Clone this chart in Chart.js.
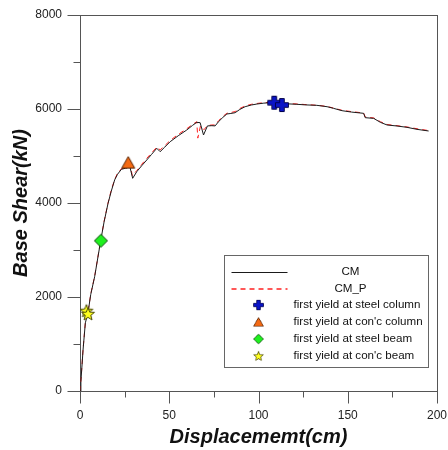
<!DOCTYPE html>
<html>
<head>
<meta charset="utf-8">
<script src="https://cdn.jsdelivr.net/npm/chart.js@4.4.1/dist/chart.umd.min.js"></script>
<style>
  body { margin: 0; background: #fff; }
  #wrap { width: 448px; height: 450px; }
</style>
</head>
<body>
<div id="wrap"><canvas id="grafico" width="448" height="450"></canvas></div>
<script>
// curva CM (deslocamento x cortante na base)
const dispCM = [0, 0.5, 1.7, 3, 4.5, 6, 8.2, 11.6, 13.5, 15.7, 17.5, 19.4, 21, 23.2, 25.5, 26.5, 27.7, 29.5, 31.8, 34.5,
    37.4, 40, 43, 44.9, 47.5, 50.5, 55, 59.8, 63, 65.4, 67.3, 69.2, 71.4, 73.9, 75.7, 77.6, 80, 82.3, 84.5, 86.9,
    89.5, 92.5, 96, 99.1, 103, 106.6, 110, 115, 121.5, 126, 132.7, 138.4, 142, 146.8, 152, 158.9, 159.8, 164.5, 168.3, 172,
    177.6, 183.2, 188.8, 195.3];
const shearCM = [0, 200, 870, 1450, 1670, 2050, 2430, 3200, 3600, 3990, 4250, 4490, 4610, 4717, 4740, 4745, 4810, 4525, 4666, 4790,
    4915, 5030, 5164, 5092, 5190, 5304, 5430, 5553, 5650, 5716, 5709, 5447, 5640, 5645, 5640, 5730, 5820, 5894, 5905, 5921,
    5990, 6049, 6085, 6106, 6125, 6134, 6125, 6112, 6100, 6088, 6078, 6049, 6014, 5964, 5935, 5908, 5815, 5801, 5716, 5660,
    5638, 5610, 5567, 5532];

// curva CM_P
const dispCMP = [0, 0.5, 1.7, 3, 4.5, 6, 8.2, 11.6, 13.5, 15.7, 17.5, 19.4, 21, 23.2, 25.5, 27, 28.2, 29.3, 31.8, 34.5,
    37.4, 40, 43, 44.9, 47.5, 50.5, 55, 59.8, 63, 65.4, 66, 67.5, 69.5, 71.4, 73.9, 75.7, 77.6, 80, 82.3, 84.5,
    86.9, 89.5, 92.5, 96, 99.1, 103, 106.6, 110, 115, 121.5, 126, 132.7, 138.4, 142, 146.8, 152, 158.9, 159.8, 164.5, 168.3,
    172, 177.6, 183.2, 188.8, 195.3];
const shearCMP = [0, 210, 880, 1460, 1680, 2060, 2440, 3210, 3610, 4000, 4270, 4500, 4630, 4730, 4760, 4780, 4800, 4580, 4690, 4820,
    4950, 5060, 5190, 5130, 5220, 5330, 5460, 5580, 5670, 5730, 5380, 5640, 5560, 5650, 5660, 5660, 5750, 5840, 5910, 5925,
    5945, 6010, 6065, 6100, 6118, 6135, 6140, 6130, 6118, 6108, 6095, 6080, 6055, 6020, 5972, 5945, 5915, 5830, 5810, 5730,
    5670, 5645, 5618, 5580, 5540];

// pontos de primeiro escoamento
const steelColX = [108.8, 113.1];
const steelColY = [6134, 6085];
const concColX = [27];
const concColY = [4860];
const steelBeamX = [11.7];
const steelBeamY = [3198];
const concBeamX = [3.6, 4.5];
const concBeamY = [1705, 1640];

const seriesLabels = ["CM", "CM_P", "first yield at steel column", "first yield at con'c column",
    "first yield at steel beam", "first yield at con'c beam"];

// eixos
const xMajor = [0, 50, 100, 150, 200];
const xMinor = [25, 75, 125, 175];
const yMajor = [0, 2000, 4000, 6000, 8000];
const yMinor = [1000, 3000, 5000, 7000];

const fonte = "'Liberation Sans', Arial, sans-serif";
const corCM = '#1a1a1a';
const corCMP = '#ff2020';
const tracoCMP = [5, 4];

function toPoints(xs, ys) {
    return xs.map((x, i) => ({ x: x, y: ys[i] }));
}

// desenha os marcadores num canvas pequeno (pointStyle)
function makeMarker(kind) {
    const c = document.createElement('canvas');
    c.width = 16;
    c.height = 16;
    const g = c.getContext('2d');
    g.beginPath();
    if (kind === 'cross') {
        const a = 2.3, b = 6.5, cx = 8, cy = 8;
        g.moveTo(cx - a, cy - b); g.lineTo(cx + a, cy - b); g.lineTo(cx + a, cy - a); g.lineTo(cx + b, cy - a);
        g.lineTo(cx + b, cy + a); g.lineTo(cx + a, cy + a); g.lineTo(cx + a, cy + b); g.lineTo(cx - a, cy + b);
        g.lineTo(cx - a, cy + a); g.lineTo(cx - b, cy + a); g.lineTo(cx - b, cy - a); g.lineTo(cx - a, cy - a);
        g.closePath();
        g.fillStyle = '#0a14c8';
        g.strokeStyle = '#00004a';
    } else if (kind === 'triangle') {
        g.moveTo(8, 2); g.lineTo(14.5, 13.5); g.lineTo(1.5, 13.5);
        g.closePath();
        g.fillStyle = '#f46a14';
        g.strokeStyle = '#5a2200';
    } else if (kind === 'diamond') {
        g.moveTo(8, 1.5); g.lineTo(14.5, 8); g.lineTo(8, 14.5); g.lineTo(1.5, 8);
        g.closePath();
        g.fillStyle = '#1ef01e';
        g.strokeStyle = '#0a4a0a';
    } else {
        for (let i = 0; i < 10; i++) {
            const r = i % 2 === 0 ? 6.8 : 2.9;
            const ang = -Math.PI / 2 + i * Math.PI / 5;
            const px = 8 + r * Math.cos(ang), py = 8.5 + r * Math.sin(ang);
            if (i === 0) g.moveTo(px, py); else g.lineTo(px, py);
        }
        g.closePath();
        g.fillStyle = '#ffff1e';
        g.strokeStyle = '#4a4a00';
    }
    g.lineWidth = 1;
    g.fill();
    g.stroke();
    return c;
}

const mkCross = makeMarker('cross');
const mkTri = makeMarker('triangle');
const mkDiam = makeMarker('diamond');
const mkStar = makeMarker('star');

// moldura, ticks maiores/menores e legenda
const extras = {
    id: 'extras',
    beforeDatasetsDraw(chart) {
        const ctx = chart.ctx;
        const area = chart.chartArea;
        const xs = chart.scales.x, ys = chart.scales.y;
        ctx.save();
        ctx.strokeStyle = '#555';
        ctx.lineWidth = 1;
        ctx.strokeRect(Math.round(area.left) + 0.5, Math.round(area.top) + 0.5,
            Math.round(area.right - area.left), Math.round(area.bottom - area.top));
        ctx.beginPath();
        const ax = Math.round(area.left) + 0.5;
        yMajor.forEach(v => {
            const p = Math.round(ys.getPixelForValue(v)) + 0.5;
            ctx.moveTo(ax - 13, p); ctx.lineTo(ax, p);
        });
        yMinor.forEach(v => {
            const p = Math.round(ys.getPixelForValue(v)) + 0.5;
            ctx.moveTo(ax - 7, p); ctx.lineTo(ax, p);
        });
        const ay = Math.round(area.bottom) + 0.5;
        xMajor.forEach(v => {
            const p = Math.round(xs.getPixelForValue(v)) + 0.5;
            ctx.moveTo(p, ay); ctx.lineTo(p, ay + 12);
        });
        xMinor.forEach(v => {
            const p = Math.round(xs.getPixelForValue(v)) + 0.5;
            ctx.moveTo(p, ay); ctx.lineTo(p, ay + 6);
        });
        ctx.stroke();
        ctx.restore();
    },
    afterDatasetsDraw(chart) {
        const ctx = chart.ctx;
        const area = chart.chartArea;
        const lx = Math.round(area.right) - 213 + 0.5;
        const ly = 255.5;
        const lw = 204, lh = 112;
        ctx.save();
        ctx.fillStyle = '#fff';
        ctx.fillRect(lx, ly, lw, lh);
        ctx.strokeStyle = '#666';
        ctx.lineWidth = 1;
        ctx.strokeRect(lx, ly, lw, lh);

        const rows = [272, 288.5, 305, 322, 339, 356];
        ctx.font = '11.6px ' + fonte;
        ctx.fillStyle = '#111';
        ctx.textBaseline = 'middle';

        // linhas
        const ds = chart.data.datasets;
        ctx.beginPath();
        ctx.strokeStyle = corCM;
        ctx.moveTo(lx + 7, 272.5); ctx.lineTo(lx + 63, 272.5);
        ctx.stroke();
        ctx.beginPath();
        ctx.setLineDash(tracoCMP);
        ctx.strokeStyle = corCMP;
        ctx.lineWidth = 1.3;
        ctx.moveTo(lx + 7, 289); ctx.lineTo(lx + 63, 289);
        ctx.stroke();
        ctx.setLineDash([]);
        ctx.lineWidth = 1;

        ctx.textAlign = 'center';
        ctx.fillText(ds[0].label, lx + 126, rows[0]);
        ctx.fillText(ds[1].label, lx + 126, rows[1]);

        ctx.textAlign = 'left';
        for (let i = 2; i < 6; i++) {
            const img = ds[i].pointStyle;
            // na legenda os simbolos sao um pouco menores
            ctx.drawImage(img, lx + 34 - 6, rows[i] - 6, 12, 12);
            ctx.fillText(ds[i].label, lx + 69, rows[i]);
        }
        ctx.restore();
    }
};

// tira o espaço extra que o Chart.js reserva para os rótulos das pontas
function semPadding(s) {
    s.paddingLeft = 0;
    s.paddingRight = 0;
    s.paddingTop = 0;
    s.paddingBottom = 0;
}

const config = {
    type: 'scatter',
    data: {
        datasets: [
            { label: seriesLabels[0], data: toPoints(dispCM, shearCM), showLine: true, borderColor: corCM,
              borderWidth: 1, pointRadius: 0, order: 2 },
            { label: seriesLabels[1], data: toPoints(dispCMP, shearCMP), showLine: true, borderColor: corCMP,
              borderWidth: 1, borderDash: tracoCMP, pointRadius: 0, order: 3 },
            { label: seriesLabels[2], data: toPoints(steelColX, steelColY), pointStyle: mkCross, order: 0 },
            { label: seriesLabels[3], data: toPoints(concColX, concColY), pointStyle: mkTri, order: 0 },
            { label: seriesLabels[4], data: toPoints(steelBeamX, steelBeamY), pointStyle: mkDiam, order: 0 },
            { label: seriesLabels[5], data: toPoints(concBeamX, concBeamY), pointStyle: mkStar, order: 0 }
        ]
    },
    options: {
        responsive: false,
        animation: false,
        devicePixelRatio: 1,
        layout: { padding: { top: 15, right: 11, left: 0, bottom: 0 } },
        plugins: {
            legend: { display: false },
            tooltip: { enabled: false }
        },
        scales: {
            x: {
                type: 'linear',
                min: 0, max: 200,
                afterFit: s => { s.height = 59; semPadding(s); },
                grid: { drawOnChartArea: false, drawTicks: false },
                border: { color: '#555' },
                ticks: {
                    stepSize: 50, padding: 17, color: '#222', maxRotation: 0,
                    font: { family: fonte, size: 12 },
                    callback: v => xMajor.includes(v) ? v : ''
                },
                title: {
                    display: true, text: 'Displacememt(cm)', color: '#111',
                    font: { family: fonte, size: 20, weight: 'bold', style: 'italic' },
                    padding: { top: 0, bottom: 1 }
                }
            },
            y: {
                type: 'linear',
                min: 0, max: 8000,
                afterFit: s => { s.width = 80; semPadding(s); },
                grid: { drawOnChartArea: false, drawTicks: false },
                border: { color: '#555' },
                ticks: {
                    stepSize: 2000, padding: 18, color: '#222',
                    font: { family: fonte, size: 12 },
                    callback: v => yMajor.includes(v) ? v : ''
                },
                title: {
                    display: true, text: 'Base Shear(kN)', color: '#111',
                    font: { family: fonte, size: 20, weight: 'bold', style: 'italic' },
                    padding: { top: 9, bottom: 0 }
                }
            }
        }
    },
    plugins: [extras]
};

const grafico = new Chart(document.getElementById('grafico').getContext('2d'), config);
</script>
</body>
</html>
